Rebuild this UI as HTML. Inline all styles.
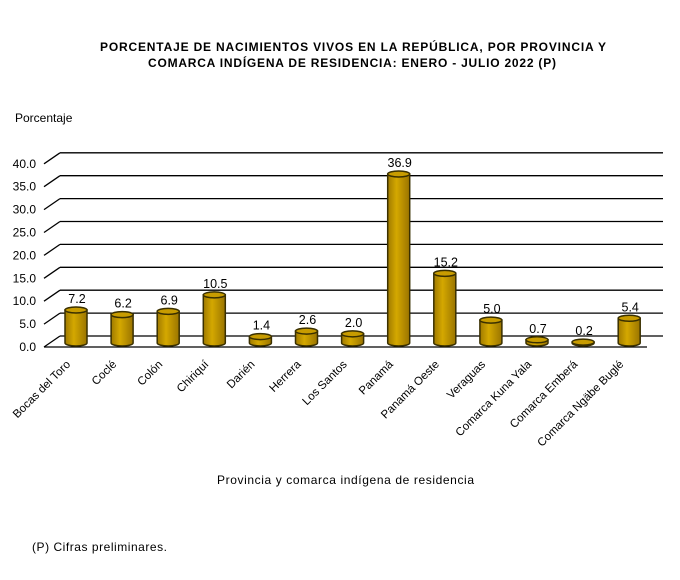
<!DOCTYPE html>
<html><head><meta charset="utf-8"><style>
body{margin:0;background:#fff}
svg text{font-family:"Liberation Sans",Arial,sans-serif;fill:#000}
</style></head><body>
<svg width="680" height="575" viewBox="0 0 680 575" xmlns="http://www.w3.org/2000/svg">
<defs>
<linearGradient id="g" x1="0" x2="1" y1="0" y2="0">
<stop offset="0" stop-color="#a07a00"/><stop offset="0.4" stop-color="#d4a800"/><stop offset="1" stop-color="#9a7400"/>
</linearGradient>
</defs>
<text x="100" y="51" font-size="12" font-weight="bold" textLength="506" lengthAdjust="spacing">PORCENTAJE  DE NACIMIENTOS  VIVOS EN LA REPÚBLICA,  POR PROVINCIA  Y</text>
<text x="148" y="67" font-size="12" font-weight="bold" textLength="408" lengthAdjust="spacing">COMARCA  INDÍGENA  DE RESIDENCIA:  ENERO  - JULIO 2022 (P)</text>
<text x="15" y="122" font-size="12">Porcentaje</text>
<g stroke="#000" stroke-width="1.3" fill="none" id="grid"></g>
<g id="bars"></g>
<g id="labs" font-size="11.5"></g>
<text x="217" y="484" font-size="12" textLength="257" lengthAdjust="spacing">Provincia  y comarca indígena  de residencia</text>
<text x="32" y="551" font-size="12" textLength="135" lengthAdjust="spacing">(P) Cifras  preliminares.</text>
<script>
var ns="http://www.w3.org/2000/svg";
function el(t,a,p,txt){var e=document.createElementNS(ns,t);for(var k in a)e.setAttribute(k,a[k]);if(txt!=null)e.textContent=txt;document.getElementById(p).appendChild(e);return e;}
var s=4.58;
for(var i=0;i<=8;i++){var yb=336-i*5*s,yf=yb+11;
el("line",{x1:60,y1:yb,x2:663,y2:yb},"grid");
el("line",{x1:44,y1:yf,x2:60,y2:yb},"grid");
el("text",{x:36,y:yf+4,"text-anchor":"end","font-size":"12",stroke:"none",fill:"#000"},"grid",(i*5).toFixed(1));}
el("line",{x1:44,y1:347,x2:647,y2:347},"grid");
var d=[["Bocas del Toro",7.2],["Coclé",6.2],["Colón",6.9],["Chiriquí",10.5],["Darién",1.4],["Herrera",2.6],["Los Santos",2.0],["Panamá",36.9],["Panamá Oeste",15.2],["Veraguas",5.0],["Comarca Kuna Yala",0.7],["Comarca Emberá",0.2],["Comarca Ngäbe Buglé",5.4]];
d.forEach(function(v,i){var cx=76+i*46.1,w=22,b=343,t=b-v[1]*s,rx=11,ry=3;
el("path",{d:"M"+(cx-rx)+","+t+" L"+(cx-rx)+","+b+" A"+rx+","+ry+" 0 0 0 "+(cx+rx)+","+b+" L"+(cx+rx)+","+t+" Z",fill:"url(#g)",stroke:"#3a3000","stroke-width":"1.5"},"bars");
el("ellipse",{cx:cx,cy:t,rx:rx,ry:ry,fill:"#c89c00",stroke:"#3a3000","stroke-width":"1.5"},"bars");
el("text",{x:cx+1,y:t-7,"text-anchor":"middle","font-size":"12.5"},"bars",v[1].toFixed(1));
el("text",{x:cx-5,y:365,"text-anchor":"end",transform:"rotate(-45 "+(cx-5)+" 365)"},"labs",v[0]);
});
</script>
</svg>
</body></html>
